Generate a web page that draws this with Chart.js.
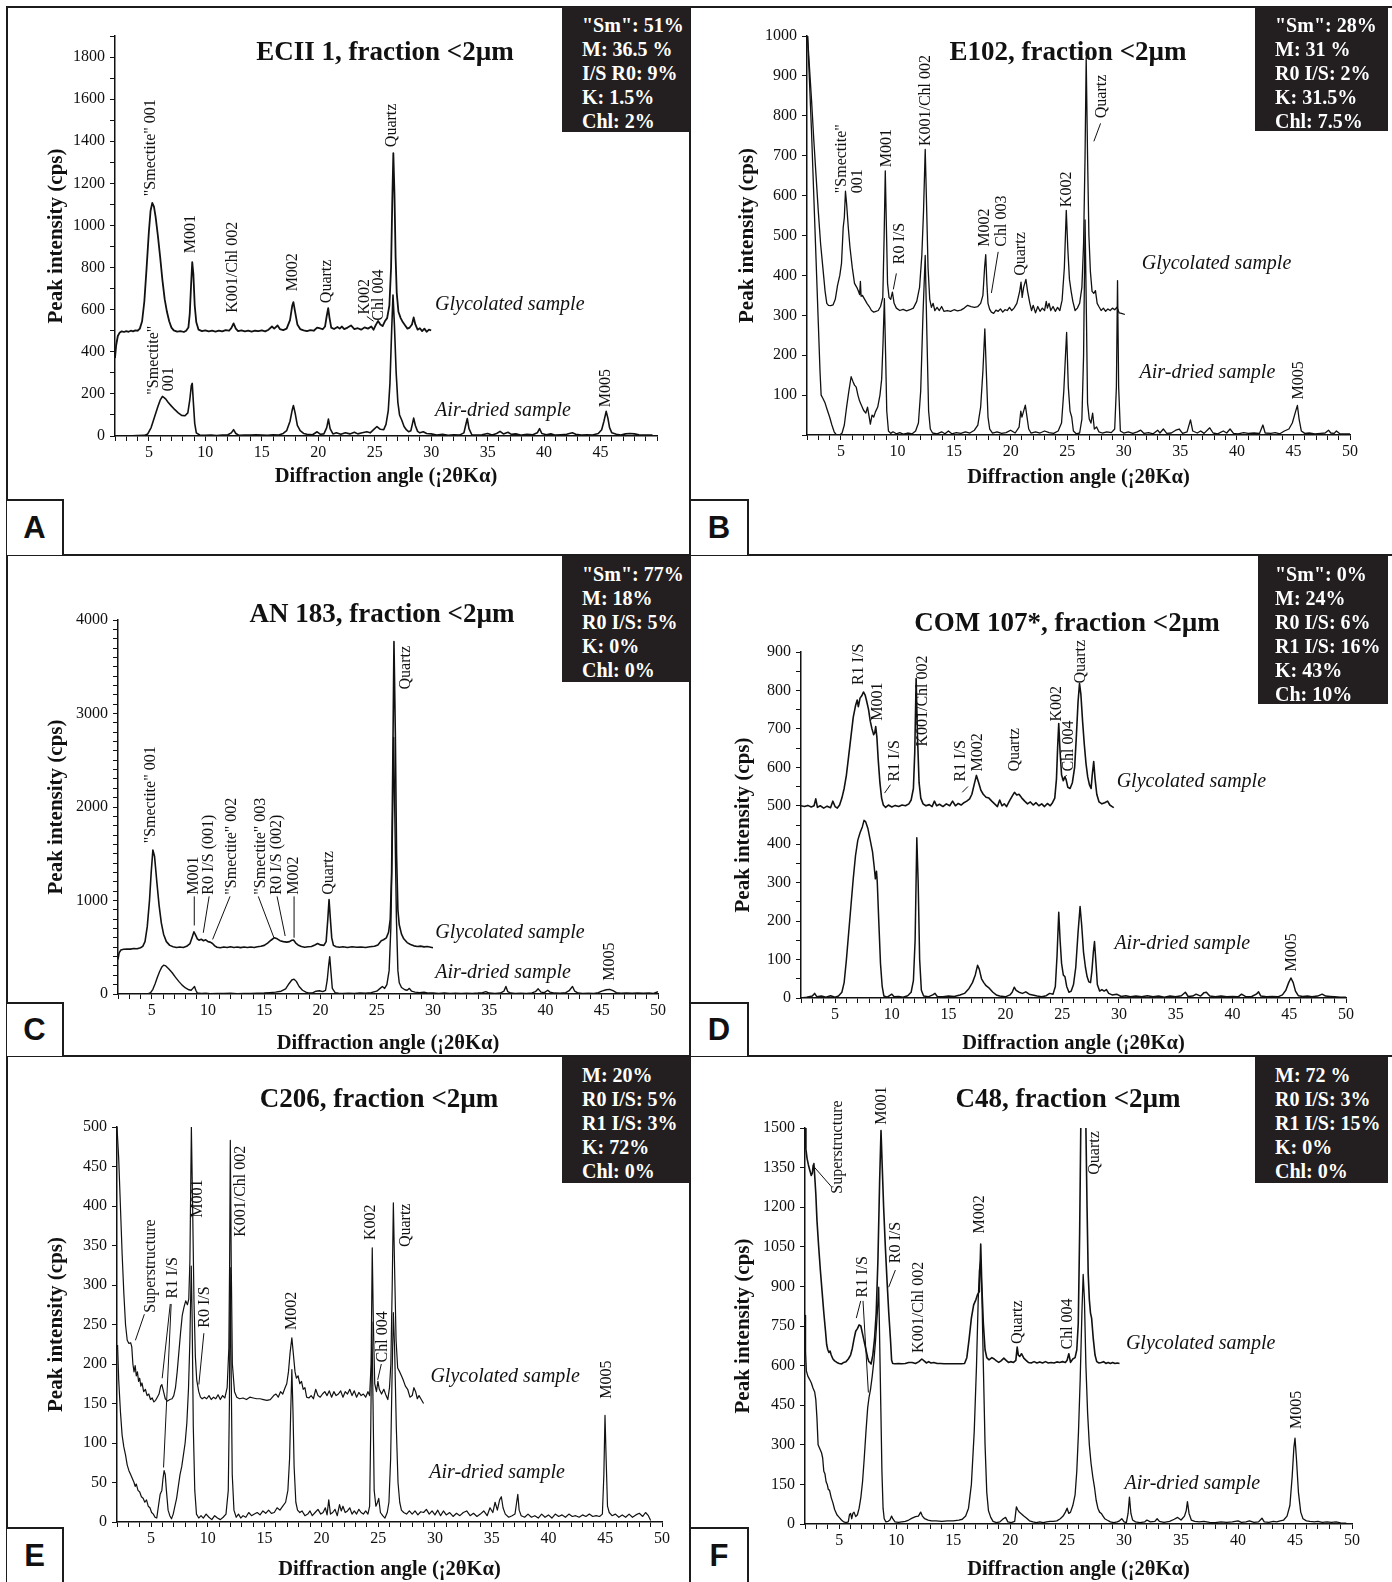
<!DOCTYPE html>
<html>
<head>
<meta charset="utf-8">
<script src="https://cdn.jsdelivr.net/npm/chart.js@4.4.0/dist/chart.umd.min.js"></script>
<style>
  body { margin: 0; background: #fff; }
  #page { position: relative; width: 1392px; height: 1582px; overflow: hidden; background: #fff;
          font-family: "Liberation Serif", "Times New Roman", serif; color: #111; }
  canvas { position: absolute; }
  .ln { position: absolute; background: #1c1c1c; }
  .box { position: absolute; background: #231f20; color: #fff; font-weight: bold; font-size: 20px;
         line-height: 24px; padding: 6px 0 0 20px; box-sizing: border-box; white-space: nowrap; }
  .ttl { position: absolute; font-weight: bold; font-size: 27px; white-space: nowrap; transform: translate(-50%, -50%); }
  .let { position: absolute; background: #fff; border-top: 2px solid #1c1c1c; border-right: 2px solid #1c1c1c;
         font-family: "Liberation Sans", Arial, sans-serif; font-weight: bold; font-size: 31px;
         display: flex; align-items: center; justify-content: center; box-sizing: border-box; }
</style>
</head>
<body>
<div id="page">
  <canvas id="cA"></canvas><canvas id="cB"></canvas><canvas id="cC"></canvas>
  <canvas id="cD"></canvas><canvas id="cE"></canvas><canvas id="cF"></canvas>

  <div class="ln" style="left:6px;top:6px;width:1386px;height:2px"></div>
  <div class="ln" style="left:6px;top:6px;width:2px;height:1576px"></div>
  <div class="ln" style="left:689px;top:6px;width:2px;height:1576px"></div>
  <div class="ln" style="left:6px;top:554px;width:1386px;height:2px"></div>
  <div class="ln" style="left:6px;top:1055px;width:1386px;height:2px"></div>

  <div class="ttl" style="left:385px;top:51px">ECII 1, fraction &lt;2µm</div>
  <div class="ttl" style="left:1068px;top:51px">E102, fraction &lt;2µm</div>
  <div class="ttl" style="left:382px;top:613px">AN 183, fraction &lt;2µm</div>
  <div class="ttl" style="left:1067px;top:622px">COM 107*, fraction &lt;2µm</div>
  <div class="ttl" style="left:379px;top:1098px">C206, fraction &lt;2µm</div>
  <div class="ttl" style="left:1068px;top:1098px">C48, fraction &lt;2µm</div>

  <div class="box" style="left:562px;top:7px;width:128px;height:125px">"Sm": 51%<br>M: 36.5 %<br>I/S R0: 9%<br>K: 1.5%<br>Chl: 2%</div>
  <div class="box" style="left:1255px;top:7px;width:133px;height:124px">"Sm": 28%<br>M: 31 %<br>R0 I/S: 2%<br>K: 31.5%<br>Chl: 7.5%</div>
  <div class="box" style="left:562px;top:556px;width:128px;height:126px">"Sm": 77%<br>M: 18%<br>R0 I/S: 5%<br>K: 0%<br>Chl: 0%</div>
  <div class="box" style="left:1258px;top:556px;width:130px;height:148px;padding-left:17px">"Sm": 0%<br>M: 24%<br>R0 I/S: 6%<br>R1 I/S: 16%<br>K: 43%<br>Ch: 10%</div>
  <div class="box" style="left:562px;top:1057px;width:128px;height:126px">M: 20%<br>R0 I/S: 5%<br>R1 I/S: 3%<br>K: 72%<br>Chl: 0%</div>
  <div class="box" style="left:1255px;top:1057px;width:133px;height:126px">M: 72 %<br>R0 I/S: 3%<br>R1 I/S: 15%<br>K: 0%<br>Chl: 0%</div>

  <div class="let" style="left:7px;top:499px;width:57px;height:56px">A</div>
  <div class="let" style="left:691px;top:499px;width:58px;height:56px">B</div>
  <div class="let" style="left:7px;top:1002px;width:57px;height:54px">C</div>
  <div class="let" style="left:691px;top:1002px;width:58px;height:54px">D</div>
  <div class="let" style="left:7px;top:1527px;width:57px;height:55px">E</div>
  <div class="let" style="left:691px;top:1527px;width:58px;height:55px">F</div>
</div>

<script>
// ---- data: [2theta, cps] ----
const A_GLY = [[2.0,370],[2.1,430],[2.25,475],[2.4,490],[2.6,497],[2.8,494],[3.0,498],[3.2,495],[3.4,500],[3.6,497],[3.8,502],[4.0,500],[4.2,510],[4.4,545],[4.6,640],[4.8,800],[5.0,970],[5.15,1070],[5.3,1107],[5.45,1090],[5.6,1040],[5.8,950],[6.0,850],[6.2,740],[6.4,650],[6.6,590],[6.8,545],[7.0,515],[7.2,502],[7.5,496],[7.8,498],[8.1,494],[8.3,500],[8.5,515],[8.62,580],[8.74,720],[8.84,826],[8.94,770],[9.06,620],[9.2,540],[9.4,505],[9.7,498],[10.0,502],[10.3,497],[10.6,500],[10.9,496],[11.2,501],[11.5,497],[11.8,503],[12.1,500],[12.3,512],[12.5,535],[12.7,510],[12.9,498],[13.2,502],[13.5,497],[13.8,501],[14.1,496],[14.4,500],[14.7,498],[15.0,502],[15.3,497],[15.6,505],[15.9,520],[16.1,510],[16.4,525],[16.6,508],[16.9,503],[17.2,510],[17.5,550],[17.7,620],[17.8,636],[17.95,590],[18.15,530],[18.4,508],[18.7,502],[19.0,498],[19.3,503],[19.6,500],[19.9,515],[20.1,512],[20.4,507],[20.6,520],[20.75,570],[20.88,607],[21.0,560],[21.15,515],[21.4,508],[21.7,518],[21.9,510],[22.1,520],[22.3,508],[22.6,515],[22.9,525],[23.2,508],[23.5,512],[23.8,505],[24.1,516],[24.4,510],[24.7,520],[24.9,505],[25.1,528],[25.3,546],[25.5,530],[25.7,522],[25.9,545],[26.1,560],[26.3,620],[26.45,800],[26.55,1100],[26.65,1343],[26.75,1150],[26.85,850],[26.95,680],[27.1,590],[27.3,560],[27.5,540],[27.7,525],[27.9,510],[28.1,515],[28.3,530],[28.45,563],[28.6,530],[28.8,505],[29.0,512],[29.2,498],[29.4,510],[29.6,495],[29.8,505],[30.0,502]];
const A_AIR = [[2.0,0],[3.0,0],[4.0,2],[4.6,3],[4.9,10],[5.2,40],[5.5,90],[5.8,140],[6.0,170],[6.2,188],[6.35,182],[6.5,175],[6.7,160],[7.0,142],[7.3,125],[7.6,110],[7.9,98],[8.2,96],[8.45,110],[8.62,170],[8.76,240],[8.84,250],[8.94,160],[9.06,60],[9.2,15],[9.5,5],[10.0,3],[10.5,5],[11.0,2],[11.5,4],[12.0,6],[12.3,15],[12.5,30],[12.7,12],[13.0,3],[13.5,5],[14.0,4],[14.5,6],[15.0,5],[15.5,3],[16.0,6],[16.5,5],[16.9,12],[17.2,25],[17.5,70],[17.7,125],[17.8,145],[17.95,110],[18.15,50],[18.4,25],[18.7,12],[19.0,8],[19.5,6],[19.9,20],[20.2,8],[20.5,10],[20.75,40],[20.9,80],[21.05,35],[21.3,10],[21.6,15],[22.0,8],[22.4,15],[22.8,10],[23.2,18],[23.5,10],[23.9,15],[24.3,20],[24.6,15],[24.9,30],[25.2,45],[25.5,32],[25.8,30],[26.0,55],[26.2,120],[26.35,250],[26.5,500],[26.62,670],[26.75,520],[26.9,300],[27.05,160],[27.2,100],[27.4,75],[27.6,45],[27.8,30],[28.0,20],[28.2,25],[28.35,60],[28.45,85],[28.6,50],[28.8,22],[29.0,15],[29.3,20],[29.6,12],[30.0,10],[30.5,5],[31.0,8],[31.5,3],[32.0,6],[32.5,4],[32.9,15],[33.05,50],[33.2,83],[33.35,35],[33.6,6],[34.0,4],[34.5,6],[35.0,12],[35.4,5],[35.8,12],[36.1,22],[36.4,10],[36.8,18],[37.1,8],[37.5,10],[38.0,4],[38.5,8],[39.0,6],[39.4,15],[39.6,35],[39.8,12],[40.2,6],[40.6,10],[41.0,4],[41.5,6],[42.0,8],[42.5,15],[42.8,8],[43.3,4],[43.8,6],[44.3,5],[44.8,12],[45.1,30],[45.3,70],[45.5,117],[45.65,85],[45.8,40],[46.0,15],[46.4,8],[46.8,5],[47.2,10],[47.6,12],[48.0,10],[48.4,6],[48.8,4],[49.2,5],[49.6,4]];
const A_PEAKS = [['"Smectite" 001',5.2,1139],['M001',8.68,868],['K001/Chl 002',12.4,585],['M002',17.75,687],['Quartz',20.76,631],['K002',24.1,577],['Chl 004',25.4,548],['Quartz',26.47,1372],['"Smectite"',5.4,196],['001',6.78,213],['M005',45.5,137]];
const A_LEADERS = [[24.3,568,24.9,545]];
const A_SAMPLES = [['Glycolated sample',30.35,625],['Air-dried sample',30.35,118]];

const B_GLY = [[2.05,1000],[2.2,930],[2.4,840],[2.6,740],[2.8,650],[3.0,560],[3.2,480],[3.4,420],[3.6,360],[3.75,330],[3.9,325],[4.1,324],[4.3,326],[4.5,340],[4.7,375],[4.9,400],[5.05,430],[5.2,520],[5.3,545],[5.4,611],[5.5,580],[5.65,520],[5.8,470],[6.0,420],[6.2,380],[6.4,370],[6.55,360],[6.65,352],[6.72,385],[6.78,348],[6.9,350],[7.1,340],[7.3,330],[7.5,322],[7.7,312],[7.9,308],[8.1,310],[8.3,312],[8.5,322],[8.7,345],[8.82,500],[8.92,662],[9.02,520],[9.12,380],[9.25,345],[9.4,340],[9.55,358],[9.7,330],[9.9,318],[10.2,312],[10.5,315],[10.8,311],[11.1,314],[11.4,318],[11.7,335],[11.95,370],[12.15,450],[12.3,560],[12.45,716],[12.55,600],[12.7,420],[12.85,340],[13.0,320],[13.15,330],[13.3,312],[13.5,320],[13.7,312],[13.9,322],[14.1,310],[14.4,312],[14.7,310],[15.0,314],[15.3,311],[15.6,313],[15.9,318],[16.2,325],[16.5,322],[16.8,320],[17.1,322],[17.35,330],[17.55,350],[17.7,420],[17.8,452],[17.9,380],[18.0,330],[18.15,315],[18.3,308],[18.5,305],[18.7,313],[18.9,310],[19.1,316],[19.3,308],[19.5,314],[19.7,312],[19.9,320],[20.1,312],[20.3,318],[20.55,330],[20.8,360],[20.92,383],[21.02,345],[21.15,370],[21.35,390],[21.5,360],[21.7,330],[21.85,312],[22.0,325],[22.2,306],[22.4,322],[22.6,310],[22.8,318],[23.0,312],[23.15,335],[23.25,318],[23.4,330],[23.55,312],[23.75,322],[23.95,310],[24.15,320],[24.35,312],[24.55,338],[24.75,420],[24.92,563],[25.05,470],[25.2,390],[25.35,360],[25.5,335],[25.7,312],[25.9,318],[26.1,330],[26.3,370],[26.45,480],[26.58,700],[26.68,946],[26.8,700],[26.92,500],[27.05,410],[27.2,360],[27.35,355],[27.5,362],[27.65,330],[27.8,322],[28.0,312],[28.2,318],[28.4,310],[28.6,316],[28.8,312],[29.0,318],[29.2,314],[29.4,320],[29.6,306],[29.8,305],[30.1,302]];
const B_AIR = [[2.05,1000],[2.2,900],[2.4,760],[2.6,600],[2.8,440],[3.0,280],[3.15,160],[3.25,100],[3.4,92],[3.6,80],[3.8,62],[4.0,45],[4.2,25],[4.4,8],[4.6,0],[4.9,0],[5.1,5],[5.3,25],[5.5,70],[5.7,110],[5.9,146],[6.05,135],[6.2,125],[6.35,120],[6.5,100],[6.65,85],[6.8,75],[7.0,62],[7.2,55],[7.35,70],[7.5,45],[7.6,27],[7.75,50],[7.9,45],[8.05,58],[8.25,70],[8.45,100],[8.6,140],[8.72,230],[8.84,342],[8.95,200],[9.05,60],[9.2,10],[9.4,4],[9.6,8],[9.9,3],[10.2,6],[10.5,2],[10.9,5],[11.3,3],[11.6,10],[11.85,30],[12.05,110],[12.25,300],[12.45,450],[12.6,250],[12.75,60],[12.9,15],[13.1,5],[13.5,3],[13.9,8],[14.2,3],[14.5,10],[14.8,3],[15.2,6],[15.6,4],[16.0,8],[16.4,5],[16.8,12],[17.1,25],[17.35,70],[17.55,160],[17.72,266],[17.85,160],[18.0,45],[18.15,15],[18.4,5],[18.8,8],[19.2,4],[19.6,6],[20.0,12],[20.4,5],[20.75,20],[20.9,60],[21.0,45],[21.1,55],[21.3,75],[21.45,45],[21.6,15],[21.8,5],[22.2,8],[22.6,5],[23.0,10],[23.4,6],[23.8,4],[24.2,10],[24.5,30],[24.7,110],[24.85,200],[24.95,257],[25.1,120],[25.25,60],[25.4,45],[25.55,10],[25.8,3],[26.1,5],[26.3,40],[26.45,200],[26.58,539],[26.7,300],[26.8,80],[26.95,40],[27.1,30],[27.25,55],[27.4,15],[27.6,20],[27.8,8],[28.1,5],[28.5,8],[28.9,6],[29.2,15],[29.35,120],[29.45,387],[29.55,120],[29.7,10],[30.0,5],[30.4,8],[30.8,4],[31.2,8],[31.5,12],[31.8,4],[32.2,6],[32.6,3],[33.0,12],[33.2,5],[33.5,15],[33.8,4],[34.2,5],[34.6,12],[34.9,15],[35.2,4],[35.6,8],[35.9,38],[36.1,10],[36.5,5],[36.8,10],[37.1,4],[37.6,18],[37.9,5],[38.3,3],[38.8,10],[39.1,5],[39.4,15],[39.7,4],[40.1,3],[40.6,6],[41.0,4],[41.5,5],[42.0,4],[42.3,25],[42.5,5],[43.0,4],[43.4,6],[43.8,3],[44.2,10],[44.6,15],[44.9,30],[45.2,60],[45.35,74],[45.5,40],[45.7,10],[46.0,4],[46.4,5],[46.9,3],[47.4,4],[47.8,5],[48.1,12],[48.3,5],[48.6,4],[48.8,10],[49.1,3],[49.5,3],[50.0,3]];
const B_PEAKS = [['"Smectite"',5.08,606],['001',6.46,606],['M001',9.04,671],['R0 I/S',10.22,428],['K001/Chl 002',12.48,724],['M002',17.74,472],['Chl 003',19.2,472],['Quartz',20.9,399],['K002',24.98,571],['Quartz',28.03,794],['M005',45.44,89]];
const B_LEADERS = [[9.9,405,9.63,365],[18.9,459,18.3,356],[27.95,781,27.36,736]];
const B_SAMPLES = [['Glycolated sample',31.6,428],['Air-dried sample',31.4,157]];

const C_GLY = [[2.0,370],[2.1,440],[2.25,470],[2.5,478],[2.8,482],[3.1,480],[3.4,486],[3.7,484],[4.0,495],[4.2,510],[4.4,560],[4.6,720],[4.8,1000],[4.95,1300],[5.1,1540],[5.25,1470],[5.45,1200],[5.65,950],[5.85,760],[6.05,640],[6.3,560],[6.6,520],[6.9,505],[7.2,498],[7.5,502],[7.8,498],[8.1,510],[8.4,540],[8.6,610],[8.75,665],[8.9,630],[9.05,590],[9.2,575],[9.4,585],[9.6,570],[9.8,580],[10.0,560],[10.2,555],[10.4,540],[10.6,515],[10.8,500],[11.1,495],[11.4,502],[11.7,497],[12.0,505],[12.3,498],[12.6,502],[12.9,496],[13.2,503],[13.5,498],[13.8,502],[14.1,497],[14.4,505],[14.7,510],[15.0,520],[15.3,545],[15.6,575],[15.9,602],[16.15,590],[16.4,570],[16.7,560],[17.0,555],[17.25,560],[17.45,575],[17.6,578],[17.8,545],[18.0,525],[18.3,508],[18.6,500],[18.9,505],[19.2,508],[19.5,525],[19.75,540],[20.0,525],[20.3,520],[20.5,560],[20.65,800],[20.76,1009],[20.88,800],[21.0,600],[21.15,520],[21.4,505],[21.7,500],[22.0,505],[22.4,498],[22.8,505],[23.2,500],[23.6,503],[24.0,498],[24.4,505],[24.8,510],[25.1,525],[25.4,570],[25.6,580],[25.85,600],[26.05,660],[26.2,800],[26.32,1300],[26.42,2400],[26.53,3770],[26.65,2800],[26.76,1500],[26.88,900],[27.0,740],[27.2,640],[27.4,590],[27.7,550],[28.0,530],[28.3,515],[28.6,508],[28.9,512],[29.2,504],[29.5,508],[29.8,500],[30.0,495]];
const C_AIR = [[2.0,0],[3.0,0],[4.0,0],[4.7,3],[4.9,15],[5.1,50],[5.3,110],[5.5,180],[5.7,240],[5.9,290],[6.05,308],[6.25,300],[6.5,270],[6.8,230],[7.1,180],[7.4,135],[7.7,95],[8.0,65],[8.3,45],[8.5,40],[8.65,60],[8.8,80],[8.92,40],[9.05,10],[9.4,5],[9.8,8],[10.2,3],[10.8,6],[11.4,5],[12.0,8],[12.6,4],[13.2,6],[13.8,5],[14.4,8],[15.0,10],[15.5,15],[16.0,20],[16.5,30],[16.9,55],[17.2,110],[17.45,150],[17.65,159],[17.85,135],[18.1,80],[18.4,40],[18.7,20],[19.0,10],[19.3,12],[19.6,30],[19.9,35],[20.2,25],[20.45,40],[20.6,150],[20.72,300],[20.82,400],[20.92,250],[21.05,60],[21.3,15],[21.6,8],[22.0,5],[22.5,8],[23.0,5],[23.5,10],[24.0,8],[24.5,15],[25.0,30],[25.3,60],[25.5,80],[25.7,60],[25.9,100],[26.1,250],[26.25,700],[26.38,1600],[26.5,2745],[26.62,1800],[26.75,800],[26.88,250],[27.0,120],[27.2,70],[27.5,45],[27.7,40],[27.9,60],[28.1,30],[28.4,20],[28.8,15],[29.2,20],[29.6,10],[30.0,12],[30.5,6],[31.0,10],[31.5,5],[32.0,8],[32.5,5],[33.0,8],[33.5,6],[34.0,10],[34.4,15],[34.7,25],[35.0,10],[35.5,5],[36.0,10],[36.3,30],[36.48,81],[36.65,25],[36.9,10],[37.3,5],[37.8,8],[38.3,5],[38.8,12],[39.1,25],[39.35,55],[39.6,20],[39.9,15],[40.2,40],[40.4,20],[40.8,10],[41.3,8],[41.8,15],[42.1,35],[42.4,81],[42.6,30],[42.9,10],[43.3,5],[43.8,8],[44.3,5],[44.7,15],[45.0,30],[45.4,45],[45.7,50],[46.0,35],[46.3,15],[46.7,8],[47.2,10],[47.7,8],[48.2,12],[48.7,8],[49.2,10],[49.6,6],[50.0,25]];
const C_PEAKS = [['"Smectite" 001',4.92,1611],['M001',8.78,1062],['R0 I/S (001)',10.1,1062],['"Smectite" 002',12.08,1062],['"Smectite" 003',14.67,1062],['R0 I/S (002)',16.14,1062],['M002',17.65,1062],['Quartz',20.7,1062],['Quartz',27.6,3257],['M005',45.7,142]];
const C_LEADERS = [[8.78,1044,8.78,733],[10.1,1044,9.58,655],[11.96,1044,10.41,584],[14.47,1044,15.86,602],[16.14,1044,16.86,620],[17.65,1044,17.65,602]];
const C_SAMPLES = [['Glycolated sample',30.2,655],['Air-dried sample',30.2,230]];

const D_GLY = [[2.0,500],[2.3,498],[2.6,501],[2.9,497],[3.15,500],[3.3,518],[3.45,496],[3.7,500],[4.0,494],[4.3,499],[4.6,495],[4.8,512],[5.0,498],[5.2,494],[5.4,502],[5.6,520],[5.8,545],[6.0,580],[6.2,630],[6.4,680],[6.6,730],[6.8,760],[6.95,775],[7.05,758],[7.2,780],[7.35,786],[7.5,796],[7.65,788],[7.8,770],[7.95,750],[8.1,720],[8.25,700],[8.4,685],[8.5,690],[8.58,706],[8.68,680],[8.8,620],[8.95,560],[9.1,520],[9.25,502],[9.45,496],[9.7,502],[10.0,497],[10.3,501],[10.6,498],[10.9,502],[11.2,500],[11.5,505],[11.7,515],[11.9,545],[12.02,640],[12.14,831],[12.26,680],[12.4,560],[12.55,520],[12.75,505],[13.0,500],[13.3,503],[13.55,498],[13.75,512],[13.95,500],[14.2,504],[14.5,498],[14.8,505],[15.1,500],[15.35,512],[15.6,500],[15.85,506],[16.1,502],[16.35,508],[16.6,512],[16.85,518],[17.05,530],[17.25,555],[17.45,579],[17.65,560],[17.85,540],[18.05,530],[18.3,522],[18.55,520],[18.8,512],[19.05,505],[19.3,498],[19.5,515],[19.7,500],[19.9,505],[20.1,498],[20.35,512],[20.6,525],[20.8,535],[21.0,528],[21.2,530],[21.45,520],[21.7,512],[21.95,505],[22.2,510],[22.45,502],[22.7,508],[22.95,500],[23.2,505],[23.45,498],[23.7,506],[23.95,500],[24.15,508],[24.35,520],[24.5,570],[24.6,650],[24.7,714],[24.82,640],[24.95,580],[25.1,565],[25.25,575],[25.35,568],[25.5,548],[25.7,545],[25.9,560],[26.1,600],[26.25,680],[26.4,770],[26.53,818],[26.65,790],[26.8,720],[26.95,660],[27.1,610],[27.25,575],[27.4,555],[27.55,545],[27.65,580],[27.78,615],[27.9,570],[28.05,530],[28.25,510],[28.5,505],[28.75,508],[29.0,512],[29.2,502],[29.4,498],[29.55,495]];
const D_AIR = [[2.0,0],[2.5,2],[3.0,5],[3.2,12],[3.4,3],[3.8,5],[4.2,2],[4.6,6],[5.0,2],[5.3,5],[5.6,15],[5.8,40],[6.0,100],[6.2,170],[6.4,240],[6.6,310],[6.8,370],[7.0,410],[7.2,430],[7.4,445],[7.55,462],[7.7,458],[7.9,440],[8.1,410],[8.3,380],[8.45,340],[8.55,310],[8.65,330],[8.72,300],[8.85,200],[9.0,90],[9.15,30],[9.3,5],[9.6,2],[10.0,10],[10.2,3],[10.6,4],[11.0,2],[11.4,6],[11.7,15],[11.9,45],[12.05,150],[12.2,417],[12.32,300],[12.45,100],[12.6,20],[12.8,5],[13.2,3],[13.6,8],[13.8,12],[14.0,4],[14.5,3],[15.0,5],[15.5,4],[16.0,8],[16.4,12],[16.8,25],[17.1,40],[17.35,60],[17.55,85],[17.7,75],[17.9,50],[18.1,40],[18.3,32],[18.6,25],[18.9,15],[19.2,8],[19.5,5],[20.0,3],[20.4,8],[20.6,15],[20.78,28],[20.95,20],[21.2,15],[21.5,12],[21.8,16],[22.1,10],[22.4,8],[22.8,5],[23.2,3],[23.6,6],[23.9,12],[24.2,10],[24.4,30],[24.55,110],[24.7,223],[24.82,150],[24.95,90],[25.1,60],[25.25,55],[25.4,30],[25.6,15],[25.8,18],[26.0,35],[26.2,80],[26.4,170],[26.58,238],[26.72,190],[26.88,120],[27.05,80],[27.2,55],[27.35,42],[27.5,40],[27.62,70],[27.75,120],[27.85,147],[27.98,90],[28.1,35],[28.3,18],[28.5,22],[28.7,18],[28.9,22],[29.1,12],[29.4,8],[29.8,10],[30.2,4],[30.6,6],[31.0,3],[31.5,5],[32.0,3],[32.5,6],[33.0,3],[33.5,5],[34.0,2],[34.5,5],[35.0,3],[35.5,6],[35.85,15],[36.1,4],[36.5,5],[36.8,10],[37.2,5],[37.5,14],[37.7,15],[38.0,5],[38.5,3],[39.0,5],[39.5,3],[40.0,4],[40.5,3],[40.8,10],[41.2,3],[41.7,4],[42.1,10],[42.3,16],[42.5,5],[43.0,3],[43.5,4],[44.0,3],[44.4,8],[44.7,20],[44.95,40],[45.15,52],[45.35,40],[45.55,18],[45.8,6],[46.2,4],[46.6,5],[47.0,3],[47.5,5],[47.9,10],[48.2,5],[48.6,4],[49.0,3],[49.5,2],[50.0,2]];
const D_PEAKS = [['R1 I/S',7.06,814],['M001',8.77,721],['R1 I/S',10.23,563],['K001/Chl 002',12.73,654],['R1 I/S',16.1,563],['M002',17.6,589],['Quartz',20.86,589],['K002',24.55,719],['Chl 004',25.6,589],['Quartz',26.6,818],['M005',45.24,69]];
const D_LEADERS = [[9.88,555,9.36,533],[16.7,550,16.2,535],[25.4,580,25.0,568]];
const D_SAMPLES = [['Glycolated sample',29.8,563],['Air-dried sample',29.6,141]];

const E_GLY = [[2.0,500],[2.15,460],[2.3,400],[2.45,340],[2.6,290],[2.75,250],[2.9,230],[3.05,226],[3.2,227],[3.3,222],[3.4,200],[3.5,190],[3.6,198],[3.7,185],[3.8,190],[3.9,178],[4.0,182],[4.1,172],[4.2,176],[4.35,165],[4.5,168],[4.65,160],[4.8,162],[4.95,155],[5.1,157],[5.25,152],[5.4,154],[5.55,158],[5.7,162],[5.85,172],[5.95,174],[6.1,165],[6.25,156],[6.45,153],[6.65,155],[6.85,156],[7.0,160],[7.15,170],[7.3,190],[7.45,215],[7.6,240],[7.75,262],[7.9,272],[8.05,280],[8.2,275],[8.32,282],[8.42,330],[8.55,500],[8.66,400],[8.78,280],[8.9,210],[9.02,180],[9.2,165],[9.35,158],[9.5,156],[9.7,158],[9.9,156],[10.1,160],[10.3,155],[10.5,158],[10.7,156],[10.9,161],[11.1,155],[11.3,160],[11.5,157],[11.7,170],[11.85,220],[11.92,330],[11.98,483],[12.06,330],[12.16,200],[12.35,165],[12.55,158],[12.8,156],[13.1,157],[13.4,155],[13.7,158],[14.0,157],[14.3,156],[14.6,156],[14.9,155],[15.2,154],[15.5,155],[15.8,160],[16.0,162],[16.2,158],[16.4,165],[16.6,162],[16.8,170],[16.95,175],[17.1,190],[17.25,215],[17.4,233],[17.55,210],[17.68,190],[17.8,182],[17.95,185],[18.1,175],[18.25,178],[18.4,168],[18.55,170],[18.7,158],[18.9,157],[19.1,160],[19.3,156],[19.5,168],[19.7,160],[19.9,158],[20.1,162],[20.3,165],[20.5,160],[20.7,166],[20.9,158],[21.1,165],[21.3,160],[21.5,162],[21.7,166],[21.9,158],[22.1,165],[22.3,162],[22.5,168],[22.7,160],[22.9,166],[23.1,158],[23.3,164],[23.5,160],[23.7,162],[23.9,158],[24.1,165],[24.25,160],[24.38,200],[24.48,347],[24.58,250],[24.7,175],[24.85,165],[24.98,178],[25.1,168],[25.3,162],[25.5,168],[25.7,160],[25.85,155],[26.0,170],[26.12,200],[26.24,300],[26.34,404],[26.45,320],[26.58,230],[26.72,195],[26.9,190],[27.05,185],[27.2,180],[27.4,172],[27.6,168],[27.8,158],[28.0,160],[28.15,170],[28.3,165],[28.45,156],[28.6,160],[28.8,155],[29.0,150]];
const E_AIR = [[2.05,224],[2.15,180],[2.3,140],[2.45,110],[2.6,95],[2.75,85],[2.9,72],[3.05,65],[3.2,60],[3.35,55],[3.5,50],[3.6,45],[3.7,48],[3.85,40],[4.0,38],[4.15,32],[4.3,30],[4.45,25],[4.6,28],[4.75,20],[4.9,18],[5.05,12],[5.2,10],[5.35,6],[5.5,5],[5.65,20],[5.8,35],[5.95,40],[6.05,55],[6.15,65],[6.25,60],[6.35,40],[6.5,15],[6.65,8],[6.8,4],[6.95,10],[7.1,20],[7.25,30],[7.4,45],[7.55,60],[7.7,70],[7.85,85],[8.0,100],[8.15,125],[8.3,170],[8.42,230],[8.54,324],[8.62,256],[8.72,120],[8.85,40],[9.0,10],[9.2,5],[9.4,8],[9.6,5],[9.85,10],[10.1,6],[10.35,3],[10.6,8],[10.85,5],[11.1,3],[11.35,6],[11.6,10],[11.8,40],[11.9,150],[11.97,322],[12.05,200],[12.15,60],[12.3,15],[12.5,6],[12.7,10],[12.9,5],[13.1,8],[13.35,6],[13.6,12],[13.85,8],[14.1,10],[14.35,12],[14.6,9],[14.85,14],[15.1,11],[15.35,15],[15.6,11],[15.85,12],[16.1,18],[16.35,15],[16.6,20],[16.85,25],[17.05,40],[17.2,80],[17.3,140],[17.4,193],[17.5,140],[17.6,70],[17.75,25],[17.9,15],[18.1,12],[18.3,14],[18.55,8],[18.8,10],[19.0,14],[19.2,8],[19.45,12],[19.7,16],[19.95,10],[20.15,12],[20.35,18],[20.5,9],[20.65,28],[20.8,10],[21.0,12],[21.2,16],[21.4,8],[21.6,22],[21.75,14],[21.9,20],[22.1,12],[22.3,14],[22.5,18],[22.7,10],[22.9,14],[23.1,10],[23.3,16],[23.5,12],[23.7,10],[23.9,14],[24.1,10],[24.25,20],[24.35,120],[24.45,253],[24.55,150],[24.65,40],[24.8,20],[24.95,25],[25.05,30],[25.2,12],[25.4,8],[25.6,5],[25.8,12],[25.95,25],[26.1,80],[26.22,180],[26.34,265],[26.45,220],[26.6,120],[26.75,50],[26.9,25],[27.05,15],[27.25,12],[27.5,10],[27.75,14],[28.0,10],[28.25,14],[28.5,9],[28.75,13],[29.0,12],[29.25,16],[29.5,10],[29.75,14],[30.0,9],[30.25,15],[30.5,8],[30.75,14],[31.0,9],[31.3,12],[31.6,7],[31.9,11],[32.2,8],[32.5,12],[32.8,14],[33.1,8],[33.4,11],[33.7,7],[34.0,10],[34.3,14],[34.6,8],[34.85,18],[35.1,12],[35.3,25],[35.5,15],[35.7,28],[35.85,32],[36.0,18],[36.2,10],[36.5,6],[36.8,8],[37.05,10],[37.2,25],[37.3,35],[37.42,15],[37.6,8],[37.9,6],[38.2,10],[38.5,6],[38.8,8],[39.1,5],[39.4,10],[39.7,6],[40.0,9],[40.3,5],[40.6,10],[40.9,7],[41.2,9],[41.5,6],[41.8,10],[42.1,7],[42.4,8],[42.7,6],[43.0,9],[43.3,7],[43.6,10],[43.9,7],[44.2,8],[44.5,7],[44.75,10],[44.88,60],[44.98,135],[45.08,80],[45.2,20],[45.35,12],[45.6,8],[45.9,10],[46.2,6],[46.5,9],[46.8,6],[47.1,10],[47.4,6],[47.7,9],[48.0,11],[48.3,7],[48.55,12],[48.8,8],[49.0,2]];
const E_PEAKS = [['Superstructure',5.0,265],['R1 I/S',6.89,283],['M001',9.13,385],['R0 I/S',9.72,246],['K001/Chl 002',12.87,361],['M002',17.4,243],['K002',24.37,357],['Chl 004',25.4,202],['Quartz',27.44,348],['M005',45.16,156]];
const E_LEADERS = [[4.41,263,3.62,230],[6.69,276,5.98,182],[6.77,276,6.1,69],[9.65,239,9.21,174],[25.28,200,24.96,180]];
const E_SAMPLES = [['Glycolated sample',29.6,184],['Air-dried sample',29.5,62]];

const F_GLY = [[2.0,1500],[2.08,1420],[2.18,1385],[2.3,1360],[2.42,1340],[2.55,1320],[2.65,1330],[2.72,1360],[2.78,1365],[2.85,1320],[2.95,1250],[3.05,1150],[3.2,1050],[3.35,960],[3.5,880],[3.65,800],[3.8,730],[3.9,680],[4.0,660],[4.1,650],[4.2,655],[4.3,640],[4.45,625],[4.6,618],[4.8,612],[5.0,608],[5.2,606],[5.4,612],[5.6,615],[5.8,625],[6.0,640],[6.15,665],[6.3,700],[6.45,730],[6.6,740],[6.75,754],[6.9,750],[7.05,720],[7.2,690],[7.35,660],[7.5,630],[7.6,615],[7.7,612],[7.8,606],[7.95,640],[8.1,700],[8.25,800],[8.4,1000],[8.55,1300],[8.67,1490],[8.78,1350],[8.9,1200],[9.05,1050],[9.2,920],[9.35,800],[9.5,700],[9.6,620],[9.7,608],[9.9,607],[10.2,608],[10.5,607],[10.8,608],[11.1,612],[11.4,612],[11.7,608],[12.0,615],[12.25,625],[12.45,618],[12.65,610],[12.85,615],[13.05,610],[13.3,612],[13.6,608],[13.9,608],[14.2,607],[14.5,607],[14.8,607],[15.1,607],[15.4,607],[15.7,607],[16.0,608],[16.2,630],[16.4,700],[16.6,780],[16.8,830],[17.0,850],[17.15,870],[17.3,880],[17.42,1060],[17.52,900],[17.65,760],[17.8,660],[17.95,630],[18.15,622],[18.4,630],[18.6,625],[18.8,618],[19.0,612],[19.2,618],[19.45,628],[19.65,620],[19.85,612],[20.05,615],[20.3,612],[20.5,620],[20.62,670],[20.72,640],[20.85,635],[21.0,645],[21.2,628],[21.4,620],[21.6,612],[21.85,610],[22.1,615],[22.35,610],[22.6,614],[22.85,610],[23.1,615],[23.35,610],[23.6,612],[23.85,610],[24.1,614],[24.35,612],[24.6,615],[24.85,612],[25.0,620],[25.15,645],[25.3,612],[25.5,625],[25.7,630],[25.85,660],[25.98,760],[26.1,1100],[26.2,1500],[26.3,1800],[26.45,1800],[26.55,1700],[26.65,1500],[26.75,1200],[26.85,950],[26.95,850],[27.05,800],[27.15,780],[27.3,700],[27.45,640],[27.6,615],[27.8,610],[28.0,612],[28.2,615],[28.4,608],[28.6,612],[28.8,608],[29.0,612],[29.2,608],[29.4,610],[29.6,608]];
const F_AIR = [[2.0,790],[2.05,650],[2.12,580],[2.25,560],[2.4,548],[2.55,535],[2.7,515],[2.85,500],[2.95,470],[3.05,400],[3.15,300],[3.3,285],[3.45,270],[3.55,250],[3.65,200],[3.75,190],[3.85,160],[3.95,150],[4.05,130],[4.15,128],[4.3,100],[4.45,80],[4.6,55],[4.8,35],[5.0,25],[5.2,15],[5.4,8],[5.6,5],[5.8,8],[5.9,35],[6.0,40],[6.1,20],[6.2,40],[6.3,45],[6.45,28],[6.6,35],[6.75,60],[6.9,100],[7.05,160],[7.2,250],[7.35,350],[7.5,440],[7.62,480],[7.75,510],[7.9,560],[8.05,620],[8.2,700],[8.35,800],[8.47,897],[8.55,700],[8.65,450],[8.75,200],[8.85,60],[8.95,20],[9.1,8],[9.3,10],[9.45,15],[9.6,30],[9.7,20],[9.9,8],[10.2,6],[10.5,8],[10.8,10],[11.1,15],[11.4,22],[11.7,28],[11.95,30],[12.15,45],[12.3,30],[12.5,20],[12.8,15],[13.1,12],[13.5,12],[14.0,10],[14.5,12],[15.0,12],[15.5,15],[15.8,18],[16.1,30],[16.35,60],[16.6,150],[16.85,350],[17.05,600],[17.2,850],[17.3,960],[17.42,1000],[17.52,880],[17.65,600],[17.8,300],[17.95,120],[18.1,50],[18.3,25],[18.5,10],[18.8,5],[19.1,8],[19.4,20],[19.6,25],[19.8,8],[20.1,5],[20.4,10],[20.55,65],[20.65,55],[20.8,45],[21.0,38],[21.2,30],[21.45,22],[21.7,12],[22.0,8],[22.3,5],[22.6,8],[22.9,5],[23.2,8],[23.5,10],[23.8,10],[24.1,12],[24.4,20],[24.65,30],[24.85,45],[25.0,60],[25.15,40],[25.3,45],[25.5,70],[25.7,110],[25.85,200],[26.0,350],[26.15,550],[26.3,800],[26.41,945],[26.52,850],[26.65,600],[26.8,420],[26.95,300],[27.1,230],[27.25,180],[27.4,140],[27.55,90],[27.7,60],[27.85,45],[28.0,40],[28.15,30],[28.3,20],[28.5,15],[28.8,8],[29.1,5],[29.4,8],[29.6,12],[29.8,20],[30.0,8],[30.2,5],[30.35,40],[30.47,102],[30.6,40],[30.75,15],[31.0,8],[31.4,5],[31.8,8],[32.0,15],[32.3,8],[32.7,10],[32.9,20],[33.1,10],[33.5,6],[34.0,10],[34.4,18],[34.7,25],[35.0,15],[35.3,30],[35.45,50],[35.56,85],[35.7,40],[35.9,15],[36.2,10],[36.6,8],[37.0,10],[37.5,6],[38.0,5],[38.5,8],[39.0,6],[39.5,8],[40.0,12],[40.3,6],[40.7,8],[41.0,12],[41.4,6],[41.8,8],[42.1,22],[42.3,8],[42.7,6],[43.1,10],[43.4,8],[43.7,12],[44.0,15],[44.3,30],[44.55,70],[44.75,180],[44.9,290],[45.0,325],[45.12,250],[45.3,120],[45.5,45],[45.7,20],[46.0,12],[46.3,10],[46.7,8],[47.0,10],[47.4,6],[47.8,8],[48.2,6],[48.6,8],[49.0,4],[49.5,3]];
const F_PEAKS = [['Superstructure',4.92,1251],['M001',8.75,1512],['R1 I/S',7.09,858],['R0 I/S',9.93,988],['K001/Chl 002',12.02,648],['M002',17.34,1100],['Quartz',20.69,682],['Chl 004',25.03,661],['Quartz',27.4,1323],['M005',45.14,360]];
const F_LEADERS = [[4.33,1277,2.75,1355],[6.89,845,6.5,780],[7.09,845,7.56,498],[9.93,962,9.34,897]];
const F_SAMPLES = [['Glycolated sample',30.16,682],['Air-dried sample',30.04,151]];

const X_TITLE = 'Diffraction angle (¡2θKα)';
const Y_TITLE = 'Peak intensity (cps)';
const SERIF = '"Liberation Serif", "Times New Roman", serif';

// peak names, leader lines and sample names, placed in data units
const peakLabels = {
  id: 'peakLabels',
  afterDatasetsDraw(chart, args, o) {
    const ctx = chart.ctx, xs = chart.scales.x, ys = chart.scales.y;
    ctx.save();
    ctx.fillStyle = '#111';
    ctx.strokeStyle = '#111';
    ctx.lineWidth = 1;
    ctx.font = '16px ' + SERIF;
    ctx.textAlign = 'left';
    ctx.textBaseline = 'middle';
    o.peaks.forEach(([t, px, py]) => {
      ctx.save();
      ctx.translate(xs.getPixelForValue(px), ys.getPixelForValue(py));
      ctx.rotate(-Math.PI / 2);
      ctx.fillText(t, 0, 0);
      ctx.restore();
    });
    o.leaders.forEach(([x1, y1, x2, y2]) => {
      ctx.beginPath();
      ctx.moveTo(xs.getPixelForValue(x1), ys.getPixelForValue(y1));
      ctx.lineTo(xs.getPixelForValue(x2), ys.getPixelForValue(y2));
      ctx.stroke();
    });
    ctx.font = 'italic 20px ' + SERIF;
    o.samples.forEach(([t, px, py]) => ctx.fillText(t, xs.getPixelForValue(px), ys.getPixelForValue(py)));
    ctx.restore();
  }
};

function xy(arr) {
  return arr.map(p => ({x: p[0], y: p[1]}));
}

function panel(id, g, gly, air, yAxis, ann) {
  const cv = document.getElementById(id);
  cv.width = g.w; cv.height = g.h;
  cv.style.left = g.x + 'px'; cv.style.top = g.y + 'px';
  new Chart(cv, {
    type: 'line',
    data: {
      datasets: [
        {data: xy(gly), borderColor: '#111', borderWidth: g.lw[0], pointRadius: 0, borderJoinStyle: 'round'},
        {data: xy(air), borderColor: '#111', borderWidth: g.lw[1], pointRadius: 0, borderJoinStyle: 'round'}
      ]
    },
    options: {
      responsive: false,
      animation: false,
      devicePixelRatio: 1,
      events: [],
      layout: {
        padding: {left: 0, top: g.t - g.y, right: g.x + g.w - g.r, bottom: 0}
      },
      plugins: {
        legend: {display: false},
        tooltip: {enabled: false},
        peakLabels: ann
      },
      scales: {
        x: {
          type: 'linear',
          min: 2,
          max: 50,
          afterFit: s => { s.height = g.y + g.h - g.b; },
          border: {color: '#111', width: 1.5},
          grid: {drawOnChartArea: false, tickLength: 5, tickColor: '#111'},
          ticks: {
            stepSize: 1, autoSkip: false, maxRotation: 0, padding: 2, color: '#111',
            font: {family: SERIF, size: 16},
            callback: v => (v % 5 === 0 && v >= 5 && v <= g.xLast) ? v : ''
          },
          title: {
            display: true, text: X_TITLE, color: '#111',
            font: {family: SERIF, size: 20.5, weight: 'bold'},
            padding: {top: 0, bottom: g.h - 12 - (g.xt - g.y)}
          }
        },
        y: {
          type: 'linear',
          min: 0,
          max: yAxis.max,
          afterFit: s => { s.width = g.l - g.x; },
          border: {color: '#111', width: 1.5},
          grid: {drawOnChartArea: false, tickLength: 5, tickColor: '#111'},
          ticks: {
            stepSize: yAxis.step, autoSkip: false, padding: 5, color: '#111',
            font: {family: SERIF, size: 16},
            callback: v => yAxis.show(v) ? v : ''
          },
          title: {
            display: true, text: Y_TITLE, color: '#111',
            font: {family: SERIF, size: 21, weight: 'bold'},
            padding: {top: g.yt - g.x - 12.5, bottom: 0}
          }
        }
      }
    },
    plugins: [peakLabels]
  });
}

panel('cA', {x: 8, y: 8, w: 681, h: 546, l: 115, t: 36, r: 657, b: 436, yt: 56, xt: 477, xLast: 45, lw: [1.8, 1.6]},
  A_GLY, A_AIR, {max: 1900, step: 100, show: v => v % 200 === 0 && v <= 1800},
  {peaks: A_PEAKS, leaders: A_LEADERS, samples: A_SAMPLES});
panel('cB', {x: 691, y: 8, w: 701, h: 546, l: 807, t: 36, r: 1350, b: 435, yt: 747, xt: 478, xLast: 50, lw: [1.3, 1.3]},
  B_GLY, B_AIR, {max: 1000, step: 100, show: v => v >= 100},
  {peaks: B_PEAKS, leaders: B_LEADERS, samples: B_SAMPLES});
panel('cC', {x: 8, y: 556, w: 681, h: 499, l: 118, t: 620, r: 658, b: 994, yt: 56, xt: 1044, xLast: 50, lw: [1.6, 1.4]},
  C_GLY, C_AIR, {max: 4000, step: 100, show: v => v % 1000 === 0},
  {peaks: C_PEAKS, leaders: C_LEADERS, samples: C_SAMPLES});
panel('cD', {x: 691, y: 556, w: 701, h: 499, l: 801, t: 652, r: 1346, b: 998, yt: 743, xt: 1044, xLast: 50, lw: [1.6, 1.5]},
  D_GLY, D_AIR, {max: 900, step: 50, show: v => v % 100 === 0},
  {peaks: D_PEAKS, leaders: D_LEADERS, samples: D_SAMPLES});
panel('cE', {x: 8, y: 1057, w: 681, h: 525, l: 117, t: 1127, r: 662, b: 1522, yt: 56, xt: 1570, xLast: 50, lw: [1.2, 1.2]},
  E_GLY, E_AIR, {max: 500, step: 50, show: v => true},
  {peaks: E_PEAKS, leaders: E_LEADERS, samples: E_SAMPLES});
panel('cF', {x: 691, y: 1057, w: 701, h: 525, l: 805, t: 1128, r: 1352, b: 1524, yt: 743, xt: 1570, xLast: 50, lw: [1.6, 1.3]},
  F_GLY, F_AIR, {max: 1500, step: 150, show: v => true},
  {peaks: F_PEAKS, leaders: F_LEADERS, samples: F_SAMPLES});
</script>
</body>
</html>
